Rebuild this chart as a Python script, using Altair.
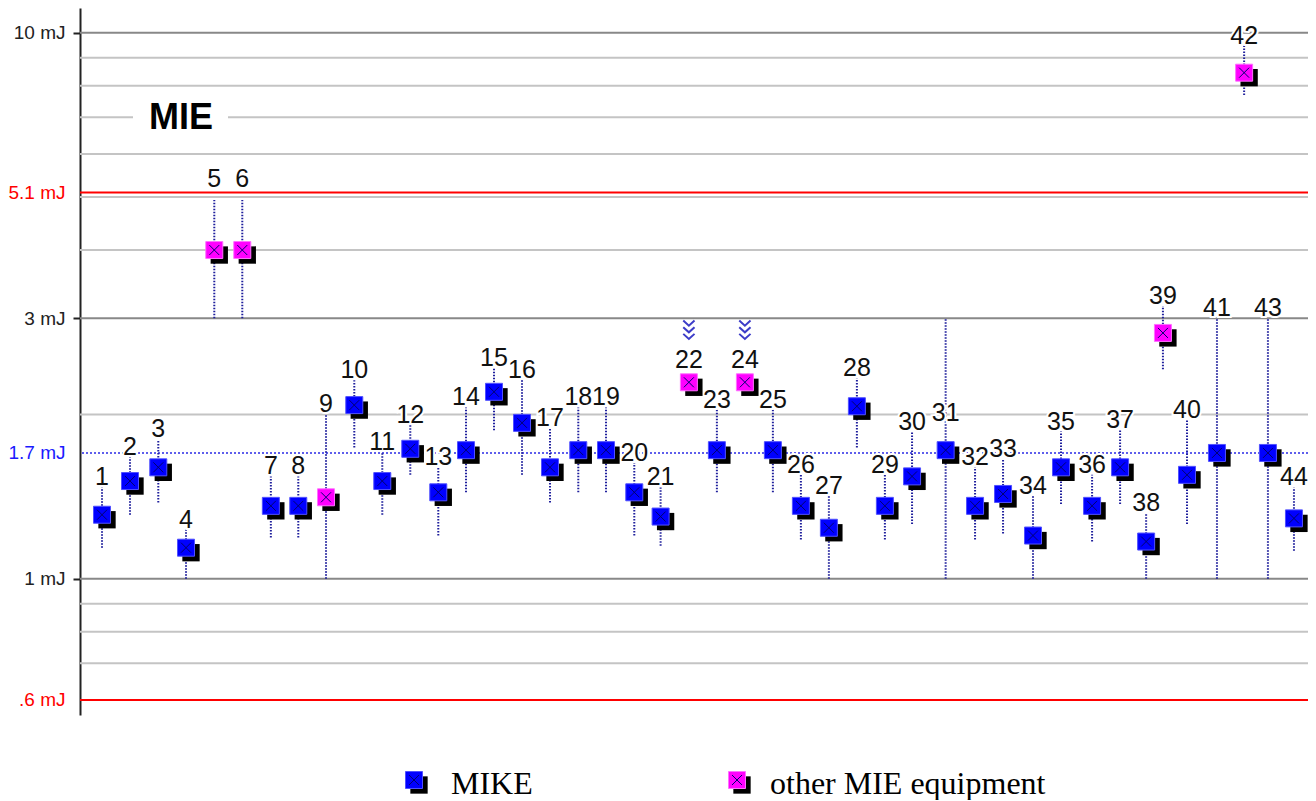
import altair as alt
import pandas as pd

# ---------------- data ----------------
ids = list(range(1, 45))
positions = [1.00, 2.00, 3.01, 4.00, 5.01, 6.01, 7.03, 8.01, 9.00, 10.01,
             11.01, 12.01, 13.01, 14.00, 15.00, 16.00, 17.00, 18.01, 19.00, 20.01,
             20.95, 21.96, 22.96, 23.96, 24.96, 25.96, 26.96, 27.96, 28.96, 29.93,
             31.13, 32.18, 33.18, 34.25, 35.25, 36.36, 37.36, 38.29, 38.89, 39.75,
             40.82, 41.79, 42.64, 43.57]
values = [1.31, 1.51, 1.60, 1.14, 4.0, 4.0, 1.36, 1.36, 1.41, 2.08,
          1.51, 1.73, 1.44, 1.72, 2.20, 1.93, 1.60, 1.72, 1.72, 1.44,
          1.30, 2.29, 1.72, 2.29, 1.72, 1.36, 1.24, 2.07, 1.36, 1.54,
          1.72, 1.36, 1.43, 1.20, 1.60, 1.36, 1.60, 1.17, 2.82, 1.55,
          1.70, 8.45, 1.70, 1.29]
lows = [1.14, 1.31, 1.38, 1.0, 3.0, 3.0, 1.19, 1.19, 1.0, 1.74,
        1.31, 1.55, 1.20, 1.44, 1.87, 1.55, 1.38, 1.44, 1.44, 1.20,
        1.15, None, 1.44, None, 1.44, 1.18, 1.0, 1.74, 1.18, 1.26,
        1.0, 1.18, 1.21, 1.0, 1.37, 1.17, 1.37, 1.0, 2.42, 1.26,
        1.0, 7.69, 1.0, 1.125]
highs = [1.47, 1.67, 1.80, 1.23, 4.94, 4.94, 1.54, 1.54, 2.0, 2.31,
         1.71, 1.91, 1.60, 2.06, 2.43, 2.31, 1.89, 2.06, 2.06, 1.63,
         1.47, None, 2.04, None, 2.04, 1.55, 1.42, 2.33, 1.55, 1.86,
         3.0, 1.60, 1.66, 1.42, 1.86, 1.55, 1.87, 1.32, 3.16, 1.95,
         3.0, 9.47, 3.0, 1.47]
other_ids = [5, 6, 9, 22, 24, 39, 42]
flagged_ids = [22, 24]
label_overrides = {5: 5.18, 6: 5.18, 31: 1.93}

grid_minor = [0.7, 0.8, 0.9, 2, 4, 5, 6, 7, 8, 9]
grid_major = [1, 3, 10]
limit_lines = [0.6, 5.1]
target_line = [1.7]
axis_values = [0.6, 1, 1.7, 3, 5.1, 10]
legend_labels = ["MIKE", "other MIE equipment"]
title_text = "MIE"

BLUE = "#0000ff"
MAGENTA = "#ff00ff"

df = pd.DataFrame({
    "id": ids,
    "pos": positions,
    "value": values,
    "lo": lows,
    "hi": highs,
})
df["group"] = ["other MIE equipment" if i in other_ids else "MIKE" for i in ids]
df["label"] = df["id"].astype(str)
df["label_at"] = [label_overrides.get(i, h) for i, h in zip(ids, highs)]
df["flag"] = [i in flagged_ids for i in ids]

PLOT_W = 1228
xenc = alt.X("pos:Q", scale=alt.Scale(domain=[0.214, 0.214 + PLOT_W / 28.0], nice=False, zero=False), axis=None)
yscale = alt.Scale(type="log", domain=[0.563, 11.1], nice=False)
yaxis = alt.Axis(
    values=axis_values,
    title=None,
    grid=False,
    labelExpr="(datum.value == 0.6 ? '.6' : toString(datum.value)) + ' mJ'",
    labelFont="Liberation Sans",
    labelFontSize=19,
    labelColor={"condition": [
        {"test": "datum.value == 5.1 || datum.value == 0.6", "value": "#ff0000"},
        {"test": "datum.value == 1.7", "value": "#1a1aff"}],
        "value": "#222222"},
    tickOpacity={"condition": {"test": "datum.value == 1 || datum.value == 3 || datum.value == 10", "value": 1}, "value": 0},
    tickColor="#222222",
    tickSize=7,
    tickWidth=2,
    labelPadding=8,
    labelFlush=False,
    labelOverlap=False,
    domainColor="#222222",
    domainWidth=2,
)


def yq(field):
    return alt.Y(field, scale=yscale, axis=yaxis)


def rules(vals, **kw):
    return alt.Chart(pd.DataFrame({"v": vals})).mark_rule(**kw).encode(y=yq("v:Q"))


minor = rules(grid_minor, color="#c4c4c4", strokeWidth=2)
major = rules(grid_major, color="#888888", strokeWidth=2)
limits = rules(limit_lines, color="#ff0000", strokeWidth=2)
target = rules(target_line, color="#2a2ae6", strokeWidth=1.5, strokeDash=[2, 2])
title_gap = alt.Chart(pd.DataFrame({"v": [7]})).mark_rule(color="white", strokeWidth=5).encode(
    y=yq("v:Q"), x=alt.value(53), x2=alt.value(148))
title = alt.Chart(pd.DataFrame({"t": [title_text]})).mark_text(
    font="Liberation Sans", fontSize=36, fontWeight="bold", color="black",
    baseline="middle", align="center").encode(text="t:N", x=alt.value(101), y=alt.value(110))

base = alt.Chart(df)
errbars = base.transform_filter("isValid(datum.lo)").mark_rule(
    color="#1f1f9c", strokeWidth=2, strokeDash=[1.5, 1.5]).encode(
    x=xenc, y=yq("lo:Q"), y2="hi:Q")

lab_kw = dict(font="Liberation Sans", fontSize=25, baseline="alphabetic", align="center")
lab_bar = base.transform_filter("isValid(datum.label_at)")
lab_nobar = base.transform_filter("!isValid(datum.label_at)")
halo1 = lab_bar.mark_text(color="white", stroke="white", strokeWidth=4, dy=-2, **lab_kw).encode(
    x=xenc, y=yq("label_at:Q"), text="label:N")
text1 = lab_bar.mark_text(color="#111111", dy=-2, **lab_kw).encode(
    x=xenc, y=yq("label_at:Q"), text="label:N")
halo2 = lab_nobar.mark_text(color="white", stroke="white", strokeWidth=4, dy=-14, **lab_kw).encode(
    x=xenc, y=yq("value:Q"), text="label:N")
text2 = lab_nobar.mark_text(color="#111111", dy=-14, **lab_kw).encode(
    x=xenc, y=yq("value:Q"), text="label:N")

CHEVRON = "M-0.55,-0.95L0,-0.45L0.55,-0.95M-0.55,-0.3L0,0.2L0.55,-0.3M-0.55,0.35L0,0.85L0.55,0.35"
chevrons = base.transform_filter("datum.flag").mark_point(
    shape=CHEVRON, size=420, filled=False, color="#3c3cc8", strokeWidth=2, yOffset=-52, opacity=1).encode(
    x=xenc, y=yq("value:Q"))

XSHAPE = "M-1,-1L1,1M-1,1L1,-1"
color_scale = alt.Scale(domain=legend_labels, range=[BLUE, MAGENTA])
stroke_scale = alt.Scale(domain=legend_labels, range=["#5050ff", "#ff70ff"])
shadow = base.mark_square(size=300, color="black", opacity=1, xOffset=5, yOffset=5).encode(
    x=xenc, y=yq("value:Q"))
squares = base.mark_square(size=289, opacity=1, strokeWidth=1).encode(
    x=xenc, y=yq("value:Q"),
    fill=alt.Fill("group:N", scale=color_scale, legend=None),
    stroke=alt.Stroke("group:N", scale=stroke_scale, legend=None))
crosses = base.mark_point(shape=XSHAPE, size=100, filled=False, color="#000070", strokeWidth=1, opacity=1).encode(
    x=xenc, y=yq("value:Q"))


def legend_entry(label, color, edge, sx, tx, sy=772, ty=786):
    d = alt.Chart(pd.DataFrame({"t": [label]}))
    return [
        d.mark_square(size=300, color="black", opacity=1).encode(x=alt.value(sx + 5), y=alt.value(sy + 5)),
        d.mark_square(size=289, color=color, stroke=edge, strokeWidth=1, opacity=1).encode(x=alt.value(sx), y=alt.value(sy)),
        d.mark_point(shape=XSHAPE, size=100, filled=False, color="#000070", strokeWidth=1, opacity=1).encode(
            x=alt.value(sx), y=alt.value(sy)),
        d.mark_text(font="Liberation Serif", fontSize=32, align="left", baseline="alphabetic", color="black").encode(
            text="t:N", x=alt.value(tx), y=alt.value(ty)),
    ]


legend_layers = legend_entry(legend_labels[0], BLUE, "#5050ff", 334, 371) + \
    legend_entry(legend_labels[1], MAGENTA, "#ff70ff", 657, 690)

chart = alt.layer(
    minor, major, limits, title_gap, title, target, errbars,
    halo1, halo2, text1, text2, chevrons, shadow, squares, crosses,
    *legend_layers
).properties(
    width=PLOT_W, height=707,
    padding={"left": 72, "top": 0, "right": 0, "bottom": 85},
    autosize=alt.AutoSizeParams(type="none"),
    background="white",
).configure_view(stroke=None)

chart.save("out.html", embed_options={"renderer": "svg", "actions": False})
